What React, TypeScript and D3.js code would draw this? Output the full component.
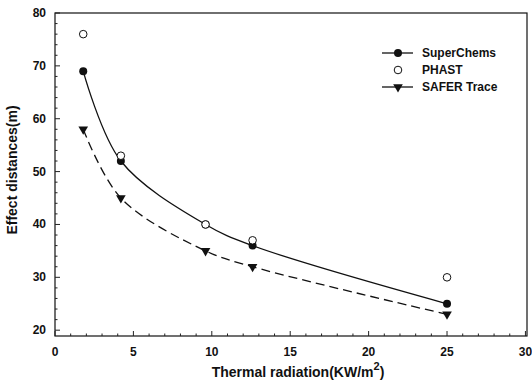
import React, { useRef, useEffect } from 'react';
import * as d3 from 'd3';

const radiation = [1.8, 4.2, 9.6, 12.6, 25];
const superChems = [69, 52, 40, 36, 25];
const phast = [76, 53, 40, 37, 30];
const saferTrace = [58, 45, 35, 32, 23];
const xTicks = [0, 5, 10, 15, 20, 25, 30];
const yTicks = [20, 30, 40, 50, 60, 70, 80];
const legendLabels = ['SuperChems', 'PHAST', 'SAFER Trace'];

const width = 532;
const height = 392;
const margin = { top: 13, right: 5, bottom: 56, left: 55 };
const font = 'Liberation Sans, Arial, sans-serif';

const App: React.FC = () => {
  const svgRef = useRef<SVGSVGElement>(null);

  useEffect(() => {
    const svg = d3.select(svgRef.current);
    svg.selectAll('*').remove();

    const x = d3.scaleLinear().domain([0, 30.1]).range([margin.left, width - margin.right]);
    const y = d3.scaleLinear().domain([18.9, 80]).range([height - margin.bottom, margin.top]);
    const x0 = margin.left;
    const x1 = width - margin.right;
    const y0 = height - margin.bottom;
    const y1 = margin.top;

    // frame
    svg.append('rect')
      .attr('x', x0).attr('y', y1)
      .attr('width', x1 - x0).attr('height', y0 - y1)
      .attr('fill', 'none').attr('stroke', '#111').attr('stroke-width', 1.2);

    // ticks (inside, with minors)
    d3.range(0, 31, 1).forEach(v => {
      const major = v % 5 === 0;
      svg.append('line')
        .attr('x1', x(v)).attr('x2', x(v))
        .attr('y1', y0).attr('y2', y0 - (major ? 5 : 2.5))
        .attr('stroke', '#222').attr('stroke-width', 1);
    });
    d3.range(20, 81, 2).forEach(v => {
      const major = v % 10 === 0;
      svg.append('line')
        .attr('x1', x0).attr('x2', x0 + (major ? 5 : 2.5))
        .attr('y1', y(v)).attr('y2', y(v))
        .attr('stroke', '#222').attr('stroke-width', 1);
    });

    svg.selectAll('.xt').data(xTicks).enter().append('text')
      .attr('x', d => x(d)).attr('y', y0 + 20)
      .attr('text-anchor', 'middle')
      .style('font', `bold 12px ${font}`).attr('fill', '#111')
      .text(d => d);

    svg.selectAll('.yt').data(yTicks).enter().append('text')
      .attr('x', x0 - 9).attr('y', d => y(d) + 4)
      .attr('text-anchor', 'end')
      .style('font', `bold 12px ${font}`).attr('fill', '#111')
      .text(d => d);

    // axis titles
    const xt = svg.append('text')
      .attr('x', 298).attr('y', 377)
      .attr('text-anchor', 'middle')
      .style('font', `bold 14px ${font}`).attr('fill', '#111');
    xt.append('tspan').text('Thermal radiation(KW/m');
    xt.append('tspan').attr('dy', -7).style('font-size', '11px').text('2');
    xt.append('tspan').attr('dy', 7).text(')');

    svg.append('text')
      .attr('transform', `translate(17, 170) rotate(-90)`)
      .attr('text-anchor', 'middle')
      .style('font', `bold 14px ${font}`).attr('fill', '#111')
      .text('Effect distances(m)');

    const line = d3.line<number>()
      .x((_, i) => x(radiation[i]))
      .y(d => y(d))
      .curve(d3.curveCatmullRom.alpha(0.5));

    svg.append('path').attr('d', line(superChems))
      .attr('fill', 'none').attr('stroke', '#111').attr('stroke-width', 1.3);
    svg.append('path').attr('d', line(saferTrace))
      .attr('fill', 'none').attr('stroke', '#111').attr('stroke-width', 1.3)
      .attr('stroke-dasharray', '9,5');

    const tri = d3.symbol().type(d3.symbolTriangle).size(40);

    superChems.forEach((v, i) => {
      svg.append('circle').attr('cx', x(radiation[i])).attr('cy', y(v)).attr('r', 4).attr('fill', '#111');
    });
    saferTrace.forEach((v, i) => {
      svg.append('path').attr('d', tri)
        .attr('transform', `translate(${x(radiation[i])}, ${y(v)}) rotate(180)`)
        .attr('fill', '#111');
    });
    phast.forEach((v, i) => {
      svg.append('circle').attr('cx', x(radiation[i])).attr('cy', y(v)).attr('r', 3.8)
        .attr('fill', '#fff').attr('stroke', '#111').attr('stroke-width', 1);
    });

    // legend
    const lg = svg.append('g');
    legendLabels.forEach((label, i) => {
      const ly = 53 + i * 17;
      if (i !== 1) {
        lg.append('line').attr('x1', 382).attr('x2', 413).attr('y1', ly).attr('y2', ly)
          .attr('stroke', '#111').attr('stroke-width', 1.3);
      }
      if (i === 0) {
        lg.append('circle').attr('cx', 398).attr('cy', ly).attr('r', 4).attr('fill', '#111');
      } else if (i === 1) {
        lg.append('circle').attr('cx', 398).attr('cy', ly).attr('r', 3.8)
          .attr('fill', '#fff').attr('stroke', '#111');
      } else {
        lg.append('path').attr('d', tri)
          .attr('transform', `translate(398, ${ly}) rotate(180)`).attr('fill', '#111');
      }
      lg.append('text').attr('x', 422).attr('y', ly + 4)
        .style('font', `bold 12px ${font}`).attr('fill', '#111')
        .text(label);
    });
  }, []);

  return (
    <div style={{ position: 'fixed', left: 0, top: 0, width, height, background: '#fff' }}>
      <svg ref={svgRef} width={width} height={height} style={{ display: 'block' }} />
    </div>
  );
};

export default App;
